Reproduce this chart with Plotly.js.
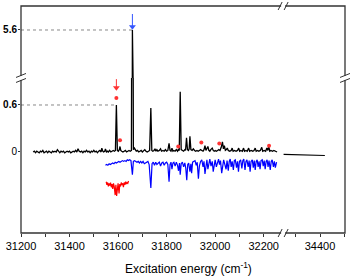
<!DOCTYPE html>
<html>
<head>
<meta charset="utf-8">
<script src="https://cdn.plot.ly/plotly-3.0.1.min.js"></script>
<style>html,body{margin:0;padding:0;background:#fff;}#chart{width:352px;height:277px;}</style>
</head>
<body>
<div id="chart"></div>
<script>
// Black spectrum (excitation energy, cm-1) and intensity
const blackX = [31250,31255,31260,31265,31270,31275,31280,31285,31290,31295,31300,31305,31310,31315,31320,31325,31330,31335,31340,31345,31350,31355,31360,31365,31370,31375,31380,31385,31390,31395,31400,31405,31410,31415,31420,31425,31430,31435,31440,31445,31450,31455,31460,31465,31470,31475,31480,31485,31490,31495,31500,31505,31510,31515,31520,31525,31530,31533,31537,31540,31545,31548,31552,31556,31560,31565,31570,31575,31580,31585,31589,31593,31597,31601,31605,31608,31611,31615,31620,31625,31630,31635,31640,31645,31650,31655,31659,31663,31667,31671,31675,31680,31685,31690,31695,31700,31705,31710,31715,31720,31725,31730,31735,31739,31743,31748,31752,31756,31760,31764,31770,31775,31779,31785,31790,31795,31800,31805,31810,31814,31818,31822,31826,31830,31835,31840,31845,31848,31852,31856,31860,31865,31870,31875,31878,31882,31886,31890,31893,31896,31900,31905,31910,31915,31920,31925,31930,31935,31940,31945,31950,31954,31958,31962,31966,31970,31974,31978,31982,31988,31992,31996,32000,32005,32010,32015,32020,32025,32030,32034,32038,32042,32046,32050,32054,32060,32066,32070,32074,32080,32086,32092,32097,32101,32106,32112,32117,32121,32127,32132,32138,32142,32148,32155,32160,32165,32169,32175,32180,32186,32192,32196,32202,32208,32213,32217,32221,32225,32230,32236,32242,32248,32255];
const blackY = [0.00,0.01,-0.01,0.01,0.00,-0.01,0.01,0.00,0.02,-0.01,0.00,0.01,-0.01,0.01,0.00,-0.01,0.01,0.00,0.01,0.00,0.03,0.00,-0.01,0.01,0.00,0.01,-0.01,0.00,0.01,0.00,0.01,-0.01,0.00,0.01,0.00,0.02,0.00,0.04,0.01,0.00,0.01,-0.01,0.01,0.00,0.02,0.00,0.01,-0.01,0.01,0.00,0.02,0.00,0.01,-0.01,0.01,0.02,0.00,0.05,0.01,0.00,0.01,0.04,0.00,0.01,0.00,0.02,0.00,0.01,0.02,0.01,0.02,0.60,0.02,0.01,0.03,0.07,0.02,0.01,0.00,0.01,0.02,0.00,0.01,0.02,0.01,0.02,5.60,0.03,0.05,0.02,0.01,0.02,0.00,0.01,0.02,0.00,0.01,0.03,0.01,0.00,0.01,0.02,0.56,0.02,0.01,0.02,0.04,0.01,0.03,0.01,0.02,0.04,0.01,0.02,0.01,0.03,0.01,0.02,0.11,0.02,0.01,0.05,0.01,0.02,0.01,0.03,0.01,0.03,0.02,0.77,0.03,0.02,0.01,0.03,0.02,0.18,0.03,0.02,0.04,0.20,0.03,0.02,0.04,0.02,0.01,0.02,0.01,0.02,0.03,0.02,0.01,0.03,0.08,0.02,0.04,0.07,0.02,0.01,0.03,0.05,0.02,0.01,0.02,0.01,0.02,0.03,0.02,0.06,0.13,0.04,0.08,0.02,0.03,0.05,0.02,0.01,0.02,0.05,0.01,0.02,0.01,0.02,0.05,0.01,0.02,0.01,0.05,0.01,0.02,0.01,0.05,0.01,0.02,0.01,0.02,0.05,0.01,0.02,0.01,0.02,0.06,0.01,0.02,0.01,0.05,0.02,0.07,0.01,0.02,0.01,0.02,0.01,0.00];

// Black trace beyond the axis break
const tailX = [34250,34300,34350,34420];
const tailY = [-0.030,-0.035,-0.040,-0.045];

// Blue (inverted) spectrum
const blueX = [31548,31553,31558,31563,31568,31573,31578,31583,31588,31593,31598,31603,31608,31613,31618,31623,31628,31633,31638,31643,31648,31653,31659,31663,31668,31673,31678,31683,31688,31693,31698,31703,31708,31713,31718,31723,31728,31735,31740,31745,31750,31755,31760,31765,31770,31775,31780,31785,31790,31795,31800,31805,31810,31814,31818,31822,31826,31830,31835,31840,31845,31849,31853,31856,31860,31865,31870,31875,31879,31883,31887,31891,31896,31900,31903,31907,31912,31917,31922,31926,31931,31935,31940,31945,31950,31954,31958,31962,31966,31970,31974,31978,31983,31988,31992,31996,32000,32005,32010,32014,32018,32022,32027,32031,32035,32040,32045,32049,32054,32058,32062,32066,32070,32075,32079,32083,32088,32092,32096,32100,32105,32110,32114,32118,32123,32127,32131,32136,32140,32144,32148,32153,32157,32161,32165,32169,32173,32177,32181,32185,32189,32194,32198,32202,32206,32210,32214,32218,32222,32227,32231,32235,32240,32244,32248,32253];
const blueY = [-0.17,-0.16,-0.17,-0.15,-0.16,-0.15,-0.14,-0.15,-0.13,-0.14,-0.13,-0.12,-0.13,-0.12,-0.11,-0.12,-0.11,-0.12,-0.10,-0.11,-0.10,-0.11,-0.29,-0.12,-0.11,-0.12,-0.13,-0.12,-0.14,-0.12,-0.14,-0.12,-0.15,-0.14,-0.13,-0.12,-0.16,-0.46,-0.15,-0.13,-0.17,-0.13,-0.16,-0.14,-0.13,-0.18,-0.14,-0.13,-0.17,-0.14,-0.13,-0.16,-0.38,-0.16,-0.13,-0.22,-0.14,-0.13,-0.18,-0.13,-0.17,-0.24,-0.14,-0.29,-0.15,-0.13,-0.19,-0.14,-0.21,-0.36,-0.16,-0.14,-0.25,-0.15,-0.27,-0.13,-0.12,-0.11,-0.17,-0.13,-0.34,-0.18,-0.12,-0.10,-0.19,-0.12,-0.28,-0.14,-0.10,-0.22,-0.12,-0.09,-0.18,-0.12,-0.25,-0.14,-0.10,-0.19,-0.11,-0.09,-0.16,-0.11,-0.27,-0.15,-0.10,-0.16,-0.22,-0.11,-0.24,-0.12,-0.09,-0.19,-0.12,-0.23,-0.11,-0.10,-0.20,-0.12,-0.25,-0.12,-0.10,-0.21,-0.11,-0.09,-0.23,-0.12,-0.10,-0.19,-0.11,-0.25,-0.12,-0.10,-0.20,-0.11,-0.23,-0.12,-0.10,-0.19,-0.12,-0.22,-0.11,-0.10,-0.18,-0.11,-0.22,-0.12,-0.10,-0.19,-0.11,-0.23,-0.12,-0.10,-0.19,-0.12,-0.20,-0.13];

// Red (inverted) spectrum
const redX = [31551,31554,31557,31560,31563,31566,31569,31572,31575,31578,31581,31584,31588,31591,31594,31597,31600,31604,31607,31610,31613,31616,31619,31622,31625,31628,31631,31634,31637,31640,31643];
const redY = [-0.38,-0.42,-0.39,-0.44,-0.40,-0.43,-0.39,-0.45,-0.41,-0.47,-0.40,-0.44,-0.55,-0.42,-0.56,-0.43,-0.40,-0.53,-0.41,-0.44,-0.39,-0.42,-0.40,-0.45,-0.39,-0.42,-0.38,-0.41,-0.39,-0.40,-0.37];

// Asterisk markers
const starX = [31593,31608,31848,31943,32017,32222];
const starY = [0.69,0.15,0.07,0.12,0.11,0.08];

// Arrows (tail and head values)
const redArrowX = [31593,31593];
const redArrowY = [0.93,0.82];
const blueArrowX = [31659,31659];
const blueArrowY = [5.80,5.64];

// Tick labels
const xTicks1 = [31200,31400,31600,31800,32000,32200];
const xTicks2 = [34400];
const yTicksLow = [0,0.6];
const yTicksLowText = ['0','<b>0.6</b>'];
const yTicksHigh = [5.6];
const yTicksHighText = ['<b>5.6</b>'];

const FONT = 'Liberation Sans, Arial, sans-serif';
const AX = '#333';
const xSplit = 0.809, ySplit = 0.683;

const traces = [
  {x: blackX, y: blackY, xaxis:'x', yaxis:'y', mode:'lines', line:{color:'#000', width:1.3}, hoverinfo:'skip'},
  {x: blackX, y: blackY, xaxis:'x', yaxis:'y2', mode:'lines', line:{color:'#000', width:1.3}, hoverinfo:'skip'},
  {x: tailX, y: tailY, xaxis:'x2', yaxis:'y', mode:'lines', line:{color:'#000', width:1.2}, hoverinfo:'skip'},
  {x: blueX, y: blueY, xaxis:'x', yaxis:'y', mode:'lines', line:{color:'#0000ff', width:1.2}, hoverinfo:'skip'},
  {x: redX, y: redY, xaxis:'x', yaxis:'y', mode:'lines', line:{color:'#ff0000', width:1.2}, hoverinfo:'skip'},
  {x: starX, y: starY, xaxis:'x', yaxis:'y', mode:'markers', marker:{color:'#ff3333', size:4, symbol:'circle'}, hoverinfo:'skip'},
  {x: redArrowX, y: redArrowY, xaxis:'x', yaxis:'y', mode:'lines', line:{color:'#ff3333', width:1}, hoverinfo:'skip'},
  {x: [redArrowX[1]], y: [redArrowY[1]], xaxis:'x', yaxis:'y', mode:'markers', marker:{color:'#ff3333', size:6, symbol:'triangle-down'}, hoverinfo:'skip'},
  {x: blueArrowX, y: blueArrowY, xaxis:'x', yaxis:'y2', mode:'lines', line:{color:'#3355ff', width:1}, hoverinfo:'skip'},
  {x: [blueArrowX[1]], y: [blueArrowY[1]], xaxis:'x', yaxis:'y2', mode:'markers', marker:{color:'#3355ff', size:6, symbol:'triangle-down'}, hoverinfo:'skip'}
];

function brk(xa, ya, horizontal) {
  const s = [];
  if (horizontal) {
    s.push({type:'rect', xref:'paper', yref:'paper', xsizemode:'pixel', ysizemode:'pixel', xanchor:xa, yanchor:ya, x0:-2, x1:2, y0:-1.5, y1:1.5, fillcolor:'#fff', line:{width:0}, layer:'above'});
    s.push({type:'line', xref:'paper', yref:'paper', xsizemode:'pixel', ysizemode:'pixel', xanchor:xa, yanchor:ya, x0:-5, y0:-4, x1:-1, y1:4, line:{color:AX, width:1}});
    s.push({type:'line', xref:'paper', yref:'paper', xsizemode:'pixel', ysizemode:'pixel', xanchor:xa, yanchor:ya, x0:1, y0:-4, x1:5, y1:4, line:{color:AX, width:1}});
  } else {
    s.push({type:'rect', xref:'paper', yref:'paper', xsizemode:'pixel', ysizemode:'pixel', xanchor:xa, yanchor:ya, x0:-1.5, x1:1.5, y0:-2, y1:2, fillcolor:'#fff', line:{width:0}, layer:'above'});
    s.push({type:'line', xref:'paper', yref:'paper', xsizemode:'pixel', ysizemode:'pixel', xanchor:xa, yanchor:ya, x0:-5, y0:-4.5, x1:5, y1:-0.5, line:{color:AX, width:1}});
    s.push({type:'line', xref:'paper', yref:'paper', xsizemode:'pixel', ysizemode:'pixel', xanchor:xa, yanchor:ya, x0:-5, y0:0.5, x1:5, y1:4.5, line:{color:AX, width:1}});
  }
  return s;
}

const shapes = [
  {type:'rect', xref:'paper', yref:'paper', x0:0, x1:1, y0:0, y1:1, line:{color:AX, width:1.3}, layer:'above'},
  {type:'line', xref:'x', yref:'y2', x0:31200, x1:31659, y0:5.6, y1:5.6, line:{color:'#888', width:1, dash:'dot'}, layer:'below'},
  {type:'line', xref:'x', yref:'y', x0:31200, x1:31593, y0:0.6, y1:0.6, line:{color:'#888', width:1, dash:'dot'}, layer:'below'}
].concat(brk(xSplit, 1, true), brk(xSplit, 0, true), brk(0, ySplit, false), brk(1, ySplit, false));

const tickFont = {family: FONT, size: 11, color: '#000'};
const yTickFont = {family: FONT, size: 10, color: '#000'};
const layout = {
  width: 352, height: 277,
  margin: {l: 21, r: 7, t: 6, b: 44},
  paper_bgcolor: '#fff', plot_bgcolor: '#fff',
  showlegend: false,
  font: {family: FONT, color:'#000'},
  xaxis: {domain:[0, xSplit], range:[31200, 32280], anchor:'y', tickvals: xTicks1, tickformat:'d', ticks:'outside', ticklen:3, tickcolor:AX, tickwidth:1,
          minor:{dtick:100, tick0:31200, ticks:'outside', ticklen:3, tickcolor:AX, showgrid:false},
          showgrid:false, zeroline:false, showline:false, tickfont: tickFont},
  xaxis2: {domain:[xSplit, 1], range:[34248, 34503], anchor:'y', tickvals: xTicks2, tickformat:'d', ticks:'outside', ticklen:3, tickcolor:AX, tickwidth:1,
          minor:{dtick:100, tick0:34300, ticks:'outside', ticklen:3, tickcolor:AX, showgrid:false},
          showgrid:false, zeroline:false, showline:false, tickfont: tickFont},
  yaxis: {domain:[0, ySplit], range:[-1.034, 0.945], anchor:'x', tickvals: yTicksLow, ticktext: yTicksLowText, ticks:'outside', ticklen:2, tickcolor:AX,
          ticklabelstandoff:-1, showgrid:false, zeroline:false, showline:false, tickfont: yTickFont},
  yaxis2: {domain:[ySplit, 1], range:[5.0, 5.9], anchor:'x', tickvals: yTicksHigh, ticktext: yTicksHighText, ticks:'outside', ticklen:2, tickcolor:AX,
          ticklabelstandoff:-1, showgrid:false, zeroline:false, showline:false, tickfont: yTickFont},
  shapes: shapes,
  annotations: [
    {xref:'paper', yref:'paper', x:0.5185, y:0, yshift:-35, xanchor:'center', yanchor:'middle', showarrow:false,
     text:'Excitation energy (cm<sup>-1</sup>)', font:{family:FONT, size:12, color:'#000'}}
  ]
};

Plotly.newPlot('chart', traces, layout, {staticPlot:true, displayModeBar:false});
</script>
</body>
</html>
